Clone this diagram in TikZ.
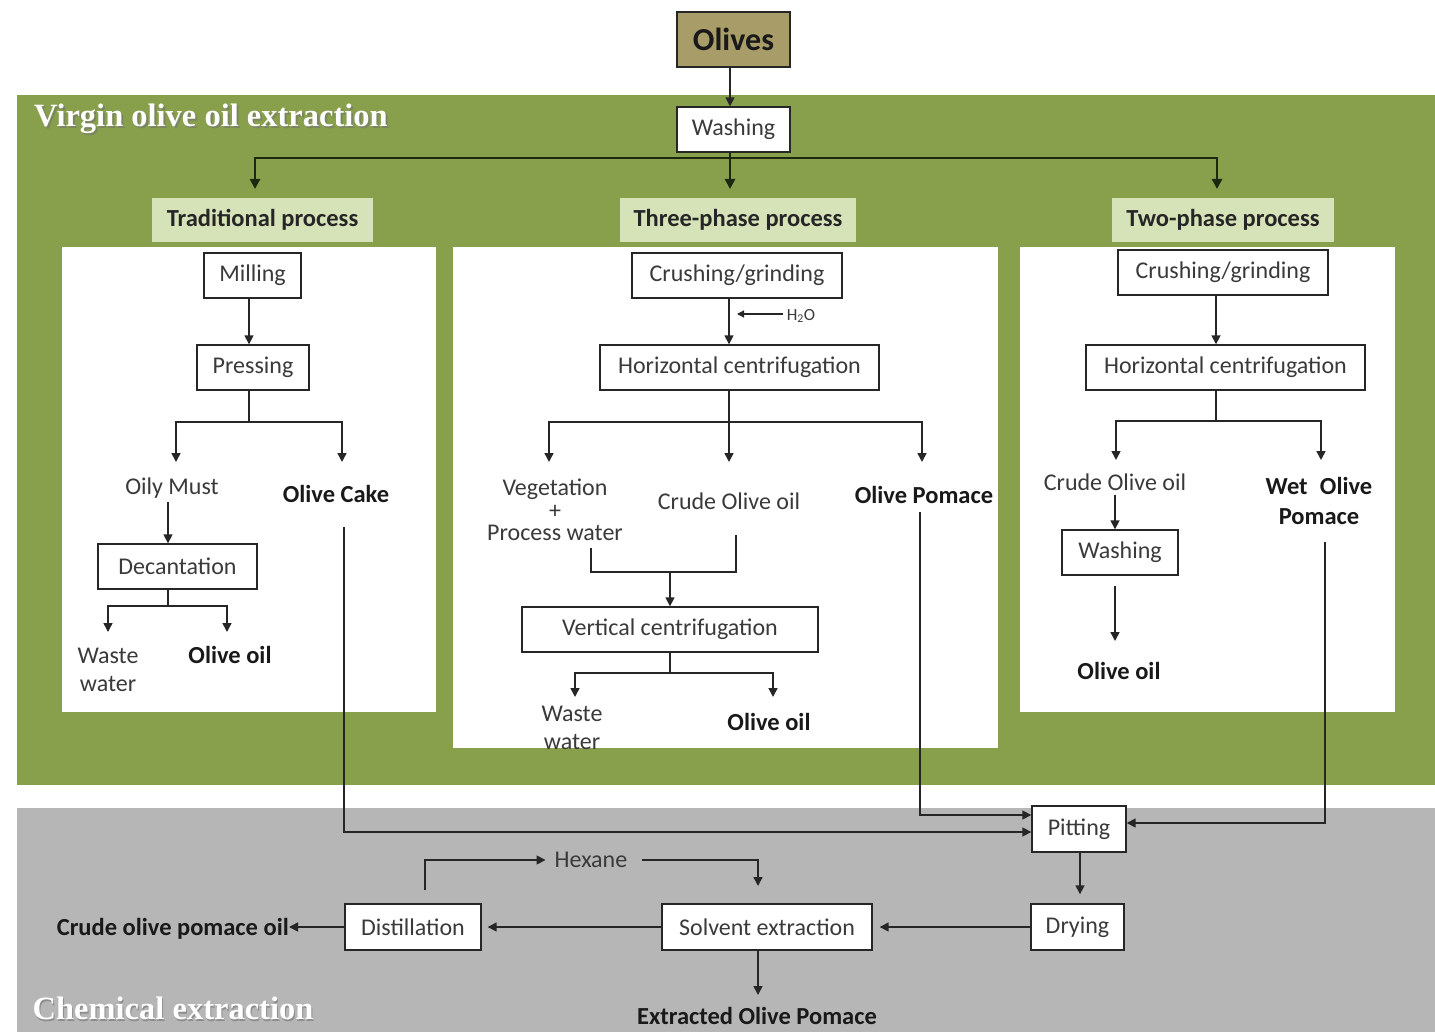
\documentclass[tikz,border=0pt]{standalone}
\usepackage{fontspec}
\setmainfont{Carlito}
\newfontfamily\titlefont{Liberation Serif}
\usetikzlibrary{arrows.meta}

\definecolor{bandgreen}{RGB}{136,160,76}
\definecolor{labelgreen}{RGB}{214,226,184}
\definecolor{bandgray}{RGB}{182,182,182}
\definecolor{olivefill}{RGB}{168,156,104}
\definecolor{ink}{RGB}{38,38,38}
\definecolor{textgray}{RGB}{58,58,58}
\definecolor{branchdark}{RGB}{28,40,16}

\tikzset{
  box/.style={draw=ink, line width=1.4pt, fill=white, minimum height=45pt,
    inner sep=0pt, text=textgray, font=\fontsize{24}{26}\selectfont},
  lbl/.style={fill=labelgreen, minimum height=44pt, inner sep=0pt,
    text=black!85, font=\bfseries\fontsize{24.5}{26}\selectfont},
  txt/.style={text=textgray, inner sep=0pt, align=center,
    font=\fontsize{24}{28}\selectfont},
  btxt/.style={text=black!90, inner sep=0pt, align=center,
    font=\bfseries\fontsize{24.5}{30}\selectfont},
  title/.style={text=white, inner sep=0pt,
    font=\titlefont\bfseries\fontsize{32.5}{35}\selectfont},
  tshadow/.style={text=black!55, opacity=0.6, inner sep=0pt,
    font=\titlefont\bfseries\fontsize{32.5}{35}\selectfont},
  ln/.style={draw=ink, line width=1.6pt},
  arr/.style={draw=ink, line width=1.6pt, -{Triangle[length=9pt,width=9pt]}},
  brarr/.style={draw=branchdark, line width=2.6pt, -{Triangle[length=10pt,width=10pt]}},
  thinarr/.style={draw=ink, line width=1.2pt, -{Triangle[length=7pt,width=7pt]}},
}

\begin{document}
\begin{tikzpicture}[x=1pt,y=-1pt]
\useasboundingbox (0,0) rectangle (1435,1032);
\fill[white] (0,0) rectangle (1435,1032);

% background bands and panels
\fill[bandgreen] (17,95) rectangle (1435,785);
\fill[bandgray] (17,808) rectangle (1435,1032);
\fill[white] (62,247) rectangle (436,712);
\fill[white] (453,247) rectangle (998,748);
\fill[white] (1020,247) rectangle (1395,712);

% section titles
\node[tshadow] (vshadow) at (213,121) {Virgin olive oil extraction};
\node[title] (vtitle) at (211,119) {Virgin olive oil extraction};
\node[tshadow] (cshadow) at (174,1010) {Chemical extraction};
\node[title] (ctitle) at (173,1008) {Chemical extraction};

% entry
\node[box, fill=olivefill, minimum width=113pt, minimum height=55pt, text=black!90,
      font=\bfseries\fontsize{32}{34}\selectfont] (olives) at (733.5,39.5) {Olives};
\node[box, minimum width=113pt] (wash) at (733.5,129.5) {Washing};
\draw[arr] (olives.south -| 730,0) -- (wash.north -| 730,0);

% process labels
\node[lbl, minimum width=221pt] (trad) at (262.5,220) {Traditional process};
\node[lbl, minimum width=236pt] (three) at (738,220) {Three-phase process};
\node[lbl, minimum width=222pt] (two) at (1223,220) {Two-phase process};

\coordinate (hub) at (730,158);
\coordinate (t1) at (255,189);
\coordinate (t2) at (730,189);
\coordinate (t3) at (1217,189);
\draw[brarr] (wash.south -| hub) -- (t2);
\draw[brarr] (hub) -| (t1);
\draw[brarr] (hub) -| (t3);

% ---------------- traditional process
\node[box, minimum width=97pt] (milling) at (252.5,275.5) {Milling};
\node[box, minimum width=112pt] (pressing) at (253,367.5) {Pressing};
\draw[arr] (milling.south -| 249,0) -- (pressing.north -| 249,0);

\coordinate (psplit) at (249,422);
\coordinate (omtip) at (176,462);
\coordinate (octip) at (342,462);
\draw[ln] (pressing.south -| psplit) -- (psplit);
\draw[arr] (psplit) -| (omtip);
\draw[arr] (psplit) -| (octip);

\node[txt] (oilymust) at (172,488) {Oily Must};
\node[btxt] (olivecake) at (336,494) {Olive Cake};

\node[box, minimum width=159pt] (decant) at (177.5,566.5) {Decantation};
\draw[arr, shorten <=4pt] (oilymust.south -| 168,0) -- (decant.north -| 168,0);

\coordinate (dsplit) at (168,606);
\coordinate (wwtip) at (108,632);
\coordinate (ootip) at (227,632);
\draw[ln] (decant.south -| dsplit) -- (dsplit);
\draw[arr] (dsplit) -| (wwtip);
\draw[arr] (dsplit) -| (ootip);
\node[txt] (waste1) at (108,670) {Waste\\water};
\node[btxt] (oil1) at (230,655) {Olive oil};

% ---------------- three-phase process
\node[box, minimum width=210pt] (crush3) at (737,275.5) {Crushing/grinding};
\node[box, minimum width=279pt] (hc3) at (739.5,367.5) {Horizontal centrifugation};
\draw[arr] (crush3.south -| 729,0) -- (hc3.north -| 729,0);
\node[inner sep=0pt, text=textgray, font=\fontsize{17}{19}\selectfont] (h2o) at (801,316) {H\textsubscript{2}O};
\coordinate (h2otip) at (737,314);
\draw[thinarr, shorten <=4pt] (h2o.west |- h2otip) -- (h2otip);

\coordinate (hsplit3) at (729,422);
\coordinate (vtip) at (549,462);
\coordinate (ctip) at (729,462);
\coordinate (ptip) at (922,462);
\draw[ln] (hc3.south -| hsplit3) -- (hsplit3);
\draw[arr] (hsplit3) -| (vtip);
\draw[arr] (hsplit3) -- (ctip);
\draw[arr] (hsplit3) -| (ptip);

\node[txt, font=\fontsize{24}{22.5}\selectfont] (veg) at (555,510) {Vegetation\\+\\Process water};
\node[txt] (crude3) at (729,501) {Crude Olive oil};
\node[btxt] (pomace3) at (924,495) {Olive Pomace};

\node[box, minimum width=296pt] (vc3) at (670,629.5) {Vertical centrifugation};
\coordinate (vm) at (591,548);
\coordinate (cm) at (736,535);
\coordinate (mj) at (670,572);
\draw[ln] (vm) |- (cm |- mj) -- (cm);
\draw[arr] (mj) -- (vc3.north -| mj);

\coordinate (vsplit) at (670,673);
\coordinate (w3tip) at (575,697);
\coordinate (o3tip) at (773,697);
\draw[ln] (vc3.south -| vsplit) -- (vsplit);
\draw[arr] (vsplit) -| (w3tip);
\draw[arr] (vsplit) -| (o3tip);
\node[txt] (waste3) at (572,728) {Waste\\water};
\node[btxt] (oil3) at (769,722) {Olive oil};

% ---------------- two-phase process
\node[box, minimum width=210pt] (crush2) at (1223,272.5) {Crushing/grinding};
\node[box, minimum width=279pt] (hc2) at (1225.5,367.5) {Horizontal centrifugation};
\draw[arr] (crush2.south -| 1216,0) -- (hc2.north -| 1216,0);

\coordinate (hsplit2) at (1216,421);
\coordinate (c2tip) at (1116,460);
\coordinate (p2tip) at (1321,460);
\draw[ln] (hc2.south -| hsplit2) -- (hsplit2);
\draw[arr] (hsplit2) -| (c2tip);
\draw[arr] (hsplit2) -| (p2tip);

\node[txt] (crude2) at (1115,482) {Crude Olive oil};
\node[btxt] (wet) at (1319,501) {Wet\enspace Olive\\Pomace};

\node[box, minimum width=116pt] (washing2) at (1120,552.5) {Washing};
\draw[arr, shorten <=4pt] (crude2.south -| 1115,0) -- (washing2.north -| 1115,0);
\coordinate (w2out) at (1115,586);
\coordinate (oil2tip) at (1115,641);
\draw[arr] (w2out) -- (oil2tip);
\node[btxt] (oil2) at (1119,671) {Olive oil};

% ---------------- chemical extraction
\node[box, minimum width=94pt, minimum height=46pt] (pitting) at (1079,829) {Pitting};
\node[box, minimum width=93pt, minimum height=46pt] (drying) at (1077.5,927) {Drying};
\node[box, minimum width=210pt, minimum height=46pt] (solvent) at (767,927) {Solvent extraction};
\node[box, minimum width=136pt, minimum height=46pt] (distill) at (413,927) {Distillation};

% by-products routed to pitting
\coordinate (cakedown) at (344,527);
\coordinate (pomdown) at (920,512);
\coordinate (wetdown) at (1325,542);
\draw[arr] (cakedown) |- ([yshift=-3pt]pitting.west);
\draw[arr] (pomdown) |- ([yshift=14pt]pitting.west);
\draw[arr] (wetdown) |- ([yshift=6pt]pitting.east);

\draw[arr, shorten >=9pt] (pitting.south -| 1080,0) -- (drying.north -| 1080,0);
\draw[arr, shorten >=7pt] (drying.west) -- (solvent.east);
\draw[arr, shorten >=6pt] (solvent.west) -- (distill.east);

\node[btxt, anchor=east] (crudepom) at (289,929) {Crude olive pomace oil};
\draw[arr] (distill.west) -- (crudepom.east |- distill.west);

\node[txt] (hexane) at (591,860) {Hexane};
\coordinate (hexstart) at (425,890);
\coordinate (hexend) at (758,886);
\draw[arr, shorten >=9pt] (hexstart) |- (hexane.west);
\draw[arr, shorten <=15pt] (hexane.east) -| (hexend);

\coordinate (exttip) at (758,995);
\draw[arr] (solvent.south -| exttip) -- (exttip);
\node[btxt] (extracted) at (757,1016) {Extracted Olive Pomace};
\end{tikzpicture}
\end{document}
